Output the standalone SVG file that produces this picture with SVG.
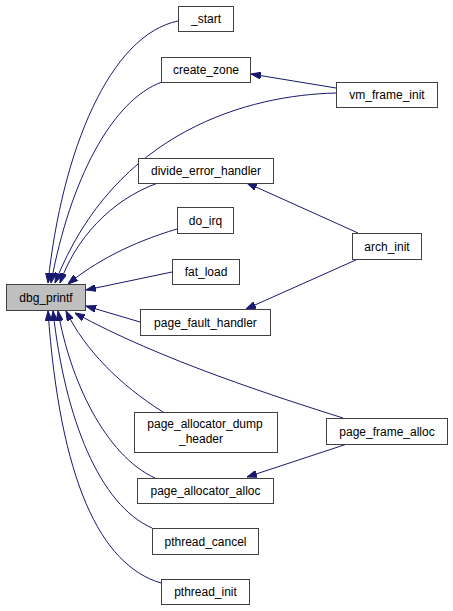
<svg xmlns="http://www.w3.org/2000/svg" width="453" height="611" viewBox="0 0 453 611">
<style>
.n rect{fill:#ffffff;stroke:#404040;stroke-width:1}
.n text{font-family:"Liberation Sans",Arial,sans-serif;font-size:12px;fill:#000000;text-anchor:middle}
#dbg_printf rect{fill:#bfbfbf}
.e path{fill:none;stroke:#191970;stroke-width:1;marker-end:url(#ah)}
</style>
<defs>
<marker id="ah" viewBox="0 0 10 7" refX="10" refY="3.5" markerWidth="10" markerHeight="7" markerUnits="userSpaceOnUse" orient="auto">
<path d="M0,0 L10,3.5 L0,7 z" fill="#191970" stroke="#191970" stroke-width="1"/>
</marker>
</defs>
<g id="connectors" class="e">
<path d="M178,21 C110,35 62,150 48,283"/>
<path d="M162,82 C112,100 70,180 51,283"/>
<path d="M336,93 C250,95 115,130 55,283"/>
<path d="M158,183 C110,200 75,240 60,283"/>
<path d="M177,229 C130,243 95,262 68,284"/>
<path d="M172,272 L86,290"/>
<path d="M140,322 L86,306"/>
<path d="M343,418 C280,398 160,360 75,313"/>
<path d="M163,412 C120,385 85,350 66,311"/>
<path d="M155,478 C105,455 70,380 58,311"/>
<path d="M152,528 C100,505 65,420 53,311"/>
<path d="M161,583 C100,565 60,480 48,311"/>
<path d="M336,88 L251,74"/>
<path d="M358,233 L247,183"/>
<path d="M358,259 L246,309"/>
<path d="M347,444 L247,477"/>
</g>
<g id="_start" class="n"><rect x="178.5" y="6.5" width="55" height="25"/><text x="206" y="23">_start</text></g>
<g id="create_zone" class="n"><rect x="161.5" y="57.5" width="89" height="25"/><text x="206" y="74">create_zone</text></g>
<g id="vm_frame_init" class="n"><rect x="336.5" y="82.5" width="101" height="25"/><text x="387" y="99">vm_frame_init</text></g>
<g id="divide_error_handler" class="n"><rect x="138.5" y="158.5" width="135" height="25"/><text x="206" y="175">divide_error_handler</text></g>
<g id="do_irq" class="n"><rect x="177.5" y="207.5" width="56" height="26"/><text x="205.5" y="225">do_irq</text></g>
<g id="fat_load" class="n"><rect x="172.5" y="259.5" width="67" height="25"/><text x="206" y="276">fat_load</text></g>
<g id="arch_init" class="n"><rect x="352.5" y="233.5" width="69" height="26"/><text x="387" y="251">arch_init</text></g>
<g id="dbg_printf" class="n"><rect x="6.5" y="284.5" width="79" height="26"/><text x="46" y="302">dbg_printf</text></g>
<g id="page_fault_handler" class="n"><rect x="140.5" y="309.5" width="130" height="26"/><text x="205.5" y="327">page_fault_handler</text></g>
<g id="page_allocator_dump_header" class="n"><rect x="134.5" y="412.5" width="143" height="40"/><text x="205" y="428">page_allocator_dump</text><text x="201" y="443">_header</text></g>
<g id="page_frame_alloc" class="n"><rect x="326.5" y="418.5" width="121" height="26"/><text x="387" y="436">page_frame_alloc</text></g>
<g id="page_allocator_alloc" class="n"><rect x="137.5" y="478.5" width="136" height="25"/><text x="205.5" y="495">page_allocator_alloc</text></g>
<g id="pthread_cancel" class="n"><rect x="152.5" y="528.5" width="106" height="26"/><text x="205.5" y="546">pthread_cancel</text></g>
<g id="pthread_init" class="n"><rect x="161.5" y="579.5" width="88" height="25"/><text x="205.5" y="596">pthread_init</text></g>
</svg>
